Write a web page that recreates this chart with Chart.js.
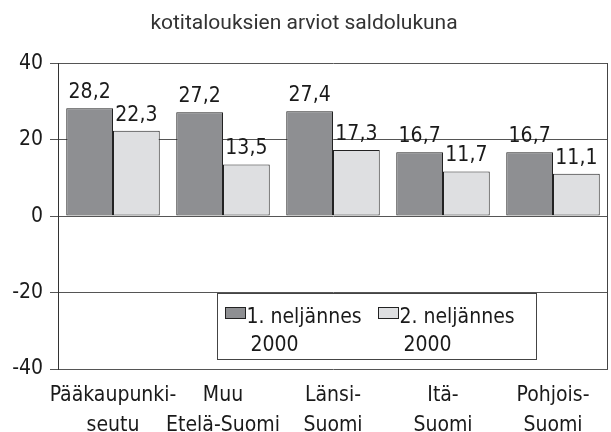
<!DOCTYPE html>
<html>
<head>
<meta charset="utf-8">
<script src="https://cdn.jsdelivr.net/npm/chart.js@4/dist/chart.umd.min.js"></script>
<style>
    html, body { margin: 0; padding: 0; background: #fff; }
    #wrap { width: 611px; height: 432px; }
</style>
</head>
<body>
<div id="wrap"><canvas id="saldoChart" width="611" height="432"></canvas></div>
<script>
const otsikko = 'kotitalouksien arviot saldolukuna';
const alueet = [
    ['Pääkaupunki-', 'seutu'],
    ['Muu', 'Etelä-Suomi'],
    ['Länsi-', 'Suomi'],
    ['Itä-', 'Suomi'],
    ['Pohjois-', 'Suomi']
];
const sarjat = ['1. neljännes 2000', '2. neljännes 2000'];
const q1 = [28.2, 27.2, 27.4, 16.7, 16.7];
const q2 = [22.3, 13.5, 17.3, 11.7, 11.1];
const yTicks = [-40, -20, 0, 20, 40];

const varit = ['#8e8f92', '#dedfe1'];
const fontti = "'DejaVu Sans Condensed', 'DejaVu Sans', sans-serif";

document.addEventListener('DOMContentLoaded', () => {
    piirraKaavio();
});

// arvot pylväiden päälle, pilkku desimaalierottimena
const arvoPlugin = {
    id: 'arvot',
    afterDatasetsDraw(chart) {
        const ctx = chart.ctx;
        ctx.save();
        ctx.font = '21px ' + fontti;
        ctx.fillStyle = '#1a1a1a';
        ctx.textAlign = 'center';
        ctx.textBaseline = 'alphabetic';
        chart.data.datasets.forEach((ds, i) => {
            chart.getDatasetMeta(i).data.forEach((bar, j) => {
                ctx.fillText(ds.data[j].toFixed(1).replace('.', ','), bar.x, bar.y - 10);
            });
        });
        ctx.restore();
    }
};

// oikea reuna + selite kaavion sisällä
const kehysPlugin = {
    id: 'kehys',
    afterDraw(chart) {
        const ctx = chart.ctx;
        const ca = chart.chartArea;
        const y = chart.scales.y;
        ctx.save();
        ctx.strokeStyle = '#444';
        ctx.lineWidth = 1;
        ctx.beginPath();
        ctx.moveTo(Math.round(ca.right) - 0.5, ca.top);
        ctx.lineTo(Math.round(ca.right) - 0.5, ca.bottom);
        ctx.stroke();

        const lx = 217.5, rx = 536.5;
        const ty = Math.round(y.getPixelForValue(-20)) + 0.5;
        const by = ty + 66;
        ctx.fillStyle = '#fff';
        ctx.fillRect(lx, ty, rx - lx, by - ty);
        ctx.strokeStyle = '#444';
        ctx.strokeRect(lx, ty, rx - lx, by - ty);

        ctx.font = '21px ' + fontti;
        ctx.textAlign = 'left';
        ctx.textBaseline = 'alphabetic';
        const sx = [225.5, 378.5];
        sarjat.forEach((nimi, i) => {
            const cut = nimi.lastIndexOf(' ');
            ctx.fillStyle = varit[i];
            ctx.fillRect(sx[i], ty + 14, 20, 11);
            ctx.strokeStyle = '#222';
            ctx.strokeRect(sx[i], ty + 14, 20, 11);
            ctx.fillStyle = '#1a1a1a';
            ctx.fillText(nimi.slice(0, cut), sx[i] + 21, ty + 29);
            ctx.fillText(nimi.slice(cut + 1), sx[i] + 25, ty + 57);
        });
        ctx.restore();
    }
};

function piirraKaavio() {
    new Chart(document.getElementById('saldoChart').getContext('2d'), {
        type: 'bar',
        data: {
            labels: alueet,
            datasets: [
                { label: sarjat[0], data: q1, backgroundColor: varit[0], borderColor: '#222', borderWidth: 1, borderSkipped: false },
                { label: sarjat[1], data: q2, backgroundColor: varit[1], borderColor: '#222', borderWidth: 1, borderSkipped: false }
            ]
        },
        options: {
            responsive: false,
            animation: false,
            layout: { padding: { left: 0, right: 3, top: 0, bottom: 0 } },
            datasets: { bar: { categoryPercentage: 0.85, barPercentage: 1 } },
            plugins: {
                legend: { display: false },
                tooltip: { enabled: false },
                title: {
                    display: true,
                    text: otsikko,
                    color: '#333',
                    font: { family: 'Roboto', size: 21, weight: 'normal' },
                    padding: { top: 11, bottom: 27 }
                }
            },
            scales: {
                x: {
                    grid: { display: false, drawTicks: false },
                    border: { display: false },
                    ticks: {
                        color: '#1a1a1a',
                        font: { family: fontti, size: 21, lineHeight: 1.45 },
                        padding: 11,
                        maxRotation: 0,
                        autoSkip: false
                    },
                    afterFit: (s) => { s.height = 63; }
                },
                y: {
                    min: -40,
                    max: 40,
                    afterBuildTicks: (s) => { s.ticks = yTicks.map(v => ({ value: v })); },
                    grid: { color: '#555', tickLength: 8, lineWidth: 1 },
                    border: { color: '#333' },
                    ticks: {
                        color: '#1a1a1a',
                        font: { family: fontti, size: 21 },
                        padding: 7
                    },
                    afterFit: (s) => { s.width = 58; }
                }
            }
        },
        plugins: [arvoPlugin, kehysPlugin]
    });
}
</script>
</body>
</html>
